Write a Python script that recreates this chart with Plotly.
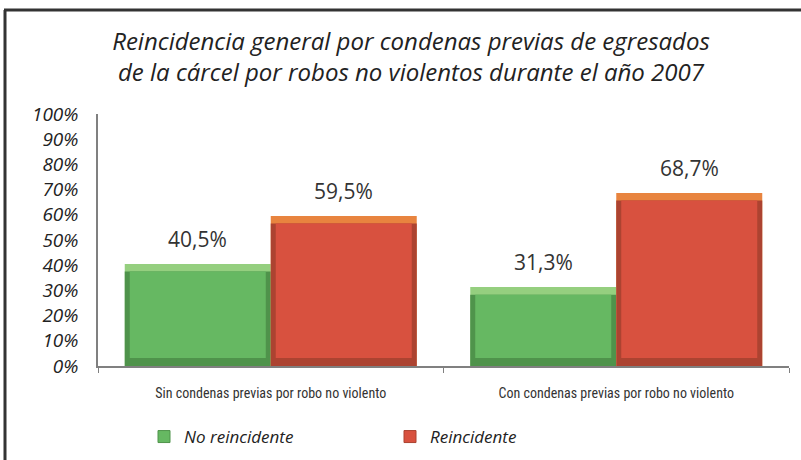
import plotly.graph_objects as go

categories = ["Sin condenas previas por robo no violento", "Con condenas previas por robo no violento"]
no_reincidente = [40.5, 31.3]
reincidente = [59.5, 68.7]
series_names = ["No reincidente", "Reincidente"]
y_ticks = list(range(0, 101, 10))
y_tick_labels = [f"{t}%" for t in y_ticks]
title_text = ("Reincidencia general por condenas previas de egresados<br>"
              "de la cárcel por robos no violentos durante el año 2007")

W, H = 801, 460
L, R, T, B = 98, 12, 114, 94
pw = W - L - R
ph = H - T - B

def px_x(p):
    return (p - L) / pw

def px_y(p):
    return (H - B - p) / ph

def fmt(v):
    return f"{v:.1f}%".replace(".", ",")

# bar geometry in category units (1 category = pw/2 px)
cat_px = pw / len(categories)
bw = 146 / cat_px            # bar width
inset = 5 / cat_px           # bevel side width
top_strip = 3.0              # in % units (~8 px)
bottom_strip = 3.2           # in % units (~8 px)

styles = [
    dict(light="#95cf7f", dark="#4f934b", main="#66b862", offset=-bw),
    dict(light="#e8843f", dark="#ac4331", main="#d8513f", offset=0.0),
]

fig = go.Figure()
for name, vals, st in zip(series_names, (no_reincidente, reincidente), styles):
    common = dict(x=categories, hoverinfo="skip", showlegend=False, marker_line_width=0)
    # highlight (top strip)
    fig.add_trace(go.Bar(y=vals, width=bw, offset=st["offset"],
                         marker_color=st["light"], **common))
    # dark sides/bottom
    fig.add_trace(go.Bar(y=[v - top_strip for v in vals], width=bw, offset=st["offset"],
                         marker_color=st["dark"], **common))
    # main face
    fig.add_trace(go.Bar(y=[v - top_strip - bottom_strip for v in vals],
                         base=[bottom_strip] * len(vals),
                         width=bw - 2 * inset, offset=st["offset"] + inset,
                         marker_color=st["main"], **common))
    # legend entry
    fig.add_trace(go.Bar(x=[None], y=[None], name=name, marker_color=st["main"],
                         marker_line=dict(color=st["dark"], width=1), showlegend=True, hoverinfo="skip"))

label_font = dict(family="Open Sans, Roboto, sans-serif", size=21, color="#333333")
for vals, shift in ((no_reincidente, -73), (reincidente, 73)):
    for c, v in zip(categories, vals):
        fig.add_annotation(x=c, y=v, xshift=shift, yshift=25, text=fmt(v),
                           showarrow=False, font=label_font, yanchor="middle")

# border (left + top)
fig.add_shape(type="line", xref="paper", yref="paper",
              x0=px_x(5), x1=px_x(5), y0=px_y(470), y1=px_y(10),
              line=dict(color="#333333", width=3))
fig.add_shape(type="line", xref="paper", yref="paper",
              x0=px_x(4), x1=px_x(810), y0=px_y(10), y1=px_y(10),
              line=dict(color="#333333", width=3))

fig.update_layout(
    width=W, height=H,
    margin=dict(l=L, r=R, t=T, b=B, autoexpand=False),
    paper_bgcolor="white", plot_bgcolor="white",
    barmode="overlay",
    title=dict(text=title_text, x=411 / W, xanchor="center", y=1 - 50 / H, yanchor="middle",
               font=dict(family="Open Sans, Roboto, sans-serif", size=24, color="#222222", style="italic")),
    showlegend=True,
    legend=dict(orientation="h", x=px_x(144), xanchor="left", y=px_y(437), yanchor="middle",
                entrywidth=201, entrywidthmode="pixels", traceorder="normal",
                font=dict(family="Open Sans, Roboto, sans-serif", size=17, color="#222222", style="italic")),
    xaxis=dict(showline=True, linecolor="#808080", linewidth=1.5, ticks="outside",
               tickson="boundaries", ticklen=5, tickcolor="#808080", automargin=False,
               ticklabelstandoff=13, range=[-0.5, 1.5],
               tickfont=dict(family="Liberation Sans Narrow, Roboto Condensed, Roboto, sans-serif", size=14, color="#333333"),
               showgrid=False, fixedrange=True),
    yaxis=dict(range=[0, 100], tickvals=y_ticks, ticktext=y_tick_labels, automargin=False,
               showline=True, linecolor="#808080", linewidth=1.5, ticks="", showgrid=False, zeroline=False,
               tickfont=dict(family="Open Sans, Roboto, sans-serif", size=19, color="#222222", style="italic"),
               ticklabelstandoff=14, fixedrange=True),
)

fig.write_html("out.html", config={"displayModeBar": False},
               post_script="document.body.style.margin='0';document.body.style.overflow='hidden';")
